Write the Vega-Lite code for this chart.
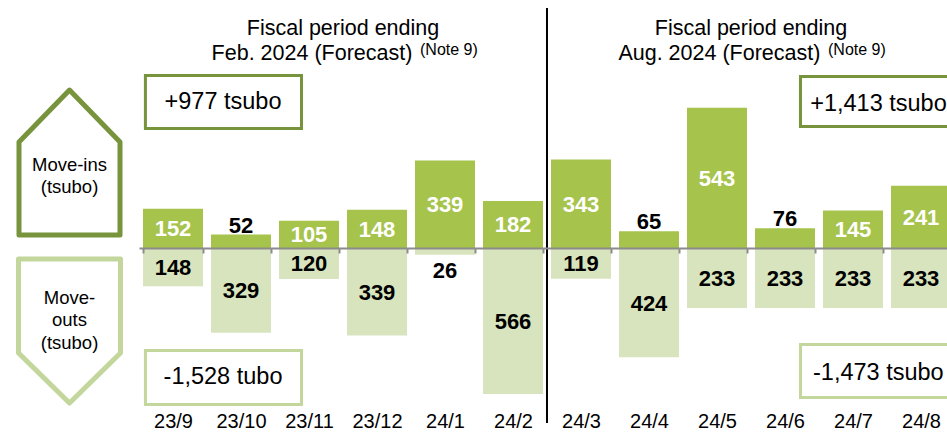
{
"$schema": "https://vega.github.io/schema/vega-lite/v6.json",
"padding": 0,
"background": "white",
"spacing": 0,
"config": {"view": {"stroke": null}, "font": "Liberation Sans"},
"datasets": {
 "flows": [
  {"month": "23/9", "kind": "Move-ins", "tsubo": 152, "signed": 152},
  {"month": "23/9", "kind": "Move-outs", "tsubo": 148, "signed": -148},
  {"month": "23/10", "kind": "Move-ins", "tsubo": 52, "signed": 52},
  {"month": "23/10", "kind": "Move-outs", "tsubo": 329, "signed": -329},
  {"month": "23/11", "kind": "Move-ins", "tsubo": 105, "signed": 105},
  {"month": "23/11", "kind": "Move-outs", "tsubo": 120, "signed": -120},
  {"month": "23/12", "kind": "Move-ins", "tsubo": 148, "signed": 148},
  {"month": "23/12", "kind": "Move-outs", "tsubo": 339, "signed": -339},
  {"month": "24/1", "kind": "Move-ins", "tsubo": 339, "signed": 339},
  {"month": "24/1", "kind": "Move-outs", "tsubo": 26, "signed": -26},
  {"month": "24/2", "kind": "Move-ins", "tsubo": 182, "signed": 182},
  {"month": "24/2", "kind": "Move-outs", "tsubo": 566, "signed": -566},
  {"month": "24/3", "kind": "Move-ins", "tsubo": 343, "signed": 343},
  {"month": "24/3", "kind": "Move-outs", "tsubo": 119, "signed": -119},
  {"month": "24/4", "kind": "Move-ins", "tsubo": 65, "signed": 65},
  {"month": "24/4", "kind": "Move-outs", "tsubo": 424, "signed": -424},
  {"month": "24/5", "kind": "Move-ins", "tsubo": 543, "signed": 543},
  {"month": "24/5", "kind": "Move-outs", "tsubo": 233, "signed": -233},
  {"month": "24/6", "kind": "Move-ins", "tsubo": 76, "signed": 76},
  {"month": "24/6", "kind": "Move-outs", "tsubo": 233, "signed": -233},
  {"month": "24/7", "kind": "Move-ins", "tsubo": 145, "signed": 145},
  {"month": "24/7", "kind": "Move-outs", "tsubo": 233, "signed": -233},
  {"month": "24/8", "kind": "Move-ins", "tsubo": 241, "signed": 241},
  {"month": "24/8", "kind": "Move-outs", "tsubo": 233, "signed": -233}
 ],
 "headers": [
  {"period": "23/12", "line1": "Fiscal period ending", "line2": "Feb. 2024 (Forecast)", "note": "(Note 9)"},
  {"period": "24/6", "line1": "Fiscal period ending", "line2": "Aug. 2024 (Forecast)", "note": "(Note 9)"}
 ]
},
"hconcat": [
 {
  "width": 139,
  "height": 434,
  "layer": [
   {
    "data": {"values": [{"label": "Move-ins\n(tsubo)"}]},
    "layer": [
     {
      "mark": {"type": "point", "shape": "M0,-1.436L1,-0.406L1,1.436L-1,1.436L-1,-0.406Z", "size": 10201, "filled": false, "color": "#77933c", "strokeWidth": 5, "strokeJoin": "round", "opacity": 1},
      "encoding": {
       "x": {"datum": 1, "type": "quantitative", "scale": {"domain": [0, 2]}, "axis": null},
       "y": {"datum": 331, "type": "quantitative", "scale": {"domain": [-721, 961], "nice": false, "zero": false}, "axis": null}
      }
     },
     {
      "mark": {"type": "text", "fontSize": 18.5, "lineBreak": "\n", "lineHeight": 22, "align": "center", "baseline": "middle", "color": "#000000"},
      "encoding": {
       "x": {"datum": 1, "type": "quantitative"},
       "y": {"datum": 321.7, "type": "quantitative"},
       "text": {"field": "label"}
      }
     }
    ]
   },
   {
    "data": {"values": [{"label": "Move-\nouts\n(tsubo)"}]},
    "layer": [
     {
      "mark": {"type": "point", "shape": "M-1,-1.412L1,-1.412L1,0.431L0,1.412L-1,0.431Z", "size": 10404, "filled": false, "color": "#c3d69b", "strokeWidth": 5, "strokeJoin": "round", "opacity": 1},
      "encoding": {
       "x": {"datum": 1, "type": "quantitative"},
       "y": {"datum": -322, "type": "quantitative"}
      }
     },
     {
      "mark": {"type": "text", "fontSize": 18.5, "lineBreak": "\n", "lineHeight": 22.5, "align": "center", "baseline": "middle", "color": "#000000"},
      "encoding": {
       "x": {"datum": 1, "type": "quantitative"},
       "y": {"datum": -193.8, "type": "quantitative"},
       "text": {"field": "label"}
      }
     }
    ]
   }
  ]
 },
 {
  "width": 816,
  "height": 434,
  "resolve": {"scale": {"y": "independent"}},
  "layer": [
   {
    "layer": [
     {
      "data": {"name": "flows"},
      "mark": {"type": "bar"},
      "encoding": {
       "x": {
        "field": "month", "type": "ordinal", "sort": null,
        "scale": {"domain": ["23/9", "23/10", "23/11", "23/12", "24/1", "24/2", "24/3", "24/4", "24/5", "24/6", "24/7", "24/8"], "paddingInner": 0.118, "paddingOuter": 0.059},
        "axis": {"orient": "bottom", "offset": -186, "title": null, "grid": false, "domainColor": "#8c8c8c", "domainWidth": 2, "tickColor": "#8c8c8c", "tickWidth": 2, "tickSize": 5, "tickBand": "extent", "labelPadding": 158, "labelFontSize": 20, "labelColor": "#000000", "labelAngle": 0, "labelOverlap": false, "zindex": 1}
       },
       "y": {"field": "signed", "type": "quantitative", "scale": {"domain": [-721, 961], "nice": false, "zero": false}, "axis": null},
       "y2": {"datum": 0},
       "color": {"field": "kind", "type": "nominal", "scale": {"domain": ["Move-ins", "Move-outs"], "range": ["#a6c34c", "#d7e4bd"]}, "legend": null}
      }
     },
     {
      "data": {"name": "flows"},
      "transform": [{"filter": "datum.kind === 'Move-ins' && datum.tsubo < 100"}],
      "mark": {"type": "text", "fontSize": 22, "fontWeight": "bold", "color": "#000000", "baseline": "alphabetic", "dy": -2},
      "encoding": {
       "x": {"field": "month", "type": "ordinal"},
       "y": {"field": "signed", "type": "quantitative"},
       "text": {"field": "tsubo", "type": "quantitative"}
      }
     },
     {
      "data": {"name": "flows"},
      "transform": [{"filter": "datum.kind === 'Move-outs' && datum.tsubo < 100"}],
      "mark": {"type": "text", "fontSize": 22, "fontWeight": "bold", "color": "#000000", "baseline": "alphabetic", "dy": 23},
      "encoding": {
       "x": {"field": "month", "type": "ordinal"},
       "y": {"field": "signed", "type": "quantitative"},
       "text": {"field": "tsubo", "type": "quantitative"}
      }
     },
     {
      "data": {"values": [{"label": "divider"}]},
      "mark": {"type": "rule", "color": "#000000", "strokeWidth": 2},
      "encoding": {
       "x": {"datum": "24/3", "type": "ordinal", "bandPosition": -0.067},
       "y": {"datum": 930, "type": "quantitative"},
       "y2": {"datum": -678}
      }
     },
     {
      "data": {"name": "headers"},
      "mark": {"type": "text", "fontSize": 21.5, "align": "center", "baseline": "alphabetic", "color": "#000000"},
      "encoding": {
       "x": {"field": "period", "type": "ordinal", "bandPosition": -0.067},
       "y": {"datum": 825.5, "type": "quantitative"},
       "text": {"field": "line1"}
      }
     },
     {
      "data": {"name": "headers"},
      "mark": {"type": "text", "fontSize": 21.5, "align": "right", "baseline": "alphabetic", "color": "#000000"},
      "encoding": {
       "x": {"field": "period", "type": "ordinal", "bandPosition": 1.09},
       "y": {"datum": 728.6, "type": "quantitative"},
       "text": {"field": "line2"}
      }
     },
     {
      "data": {"name": "headers"},
      "mark": {"type": "text", "fontSize": 16, "align": "left", "baseline": "alphabetic", "color": "#000000"},
      "encoding": {
       "x": {"field": "period", "type": "ordinal", "bandPosition": 1.217},
       "y": {"datum": 748, "type": "quantitative"},
       "text": {"field": "note"}
      }
     },
     {
      "data": {"values": [{"label": "+977 tsubo"}]},
      "layer": [
       {
        "mark": {"type": "rect", "fill": "#ffffff", "stroke": "#77933c", "strokeWidth": 3},
        "encoding": {
         "x": {"datum": "23/9", "type": "ordinal", "bandPosition": 0.04},
         "x2": {"datum": "23/11", "bandPosition": 0.375},
         "y": {"datum": 668.5, "type": "quantitative"},
         "y2": {"datum": 463}
        }
       },
       {
        "mark": {"type": "text", "fontSize": 23.5, "align": "center", "baseline": "middle", "color": "#000000"},
        "encoding": {
         "x": {"datum": "23/10", "type": "ordinal", "bandPosition": 0.2},
         "y": {"datum": 565.8, "type": "quantitative"},
         "text": {"field": "label"}
        }
       }
      ]
     },
     {
      "data": {"values": [{"label": "-1,528 tubo"}]},
      "layer": [
       {
        "mark": {"type": "rect", "fill": "#ffffff", "stroke": "#c3d69b", "strokeWidth": 3},
        "encoding": {
         "x": {"datum": "23/9", "type": "ordinal", "bandPosition": 0.04},
         "x2": {"datum": "23/11", "bandPosition": 0.375},
         "y": {"datum": -397, "type": "quantitative"},
         "y2": {"datum": -606.3}
        }
       },
       {
        "mark": {"type": "text", "fontSize": 23.5, "align": "center", "baseline": "middle", "color": "#000000"},
        "encoding": {
         "x": {"datum": "23/10", "type": "ordinal", "bandPosition": 0.2},
         "y": {"datum": -500, "type": "quantitative"},
         "text": {"field": "label"}
        }
       }
      ]
     },
     {
      "data": {"values": [{"label": "+1,413 tsubo"}]},
      "layer": [
       {
        "mark": {"type": "rect", "fill": "#ffffff", "stroke": "#77933c", "strokeWidth": 3},
        "encoding": {
         "x": {"datum": "24/6", "type": "ordinal", "bandPosition": 0.758},
         "x2": {"datum": "24/8", "bandPosition": 1.2},
         "y": {"datum": 664.6, "type": "quantitative"},
         "y2": {"datum": 470.7}
        }
       },
       {
        "mark": {"type": "text", "fontSize": 23.5, "align": "left", "baseline": "middle", "color": "#000000"},
        "encoding": {
         "x": {"datum": "24/6", "type": "ordinal", "bandPosition": 0.92},
         "y": {"datum": 558, "type": "quantitative"},
         "text": {"field": "label"}
        }
       }
      ]
     },
     {
      "data": {"values": [{"label": "-1,473 tsubo"}]},
      "layer": [
       {
        "mark": {"type": "rect", "fill": "#ffffff", "stroke": "#c3d69b", "strokeWidth": 3},
        "encoding": {
         "x": {"datum": "24/6", "type": "ordinal", "bandPosition": 0.758},
         "x2": {"datum": "24/8", "bandPosition": 1.2},
         "y": {"datum": -374, "type": "quantitative"},
         "y2": {"datum": -579.4}
        }
       },
       {
        "mark": {"type": "text", "fontSize": 23.5, "align": "left", "baseline": "middle", "color": "#000000"},
        "encoding": {
         "x": {"datum": "24/6", "type": "ordinal", "bandPosition": 0.967},
         "y": {"datum": -484.4, "type": "quantitative"},
         "text": {"field": "label"}
        }
       }
      ]
     }
    ]
   },
   {
    "layer": [
     {
      "data": {"name": "flows"},
      "transform": [{"filter": "datum.kind === 'Move-ins' && datum.tsubo >= 100"}],
      "mark": {"type": "text", "fontSize": 22, "fontWeight": "bold", "color": "#ffffff", "baseline": "middle", "dy": 1},
      "encoding": {
       "x": {"field": "month", "type": "ordinal"},
       "y": {"field": "signed", "type": "quantitative", "scale": {"domain": [-1442, 1922], "nice": false, "zero": false}, "axis": null},
       "text": {"field": "tsubo", "type": "quantitative"}
      }
     },
     {
      "data": {"name": "flows"},
      "transform": [{"filter": "datum.kind === 'Move-outs' && datum.tsubo >= 100"}],
      "mark": {"type": "text", "fontSize": 22, "fontWeight": "bold", "color": "#000000", "baseline": "middle", "dy": 1},
      "encoding": {
       "x": {"field": "month", "type": "ordinal"},
       "y": {"field": "signed", "type": "quantitative"},
       "text": {"field": "tsubo", "type": "quantitative"}
      }
     }
    ]
   }
  ]
 }
]
}
